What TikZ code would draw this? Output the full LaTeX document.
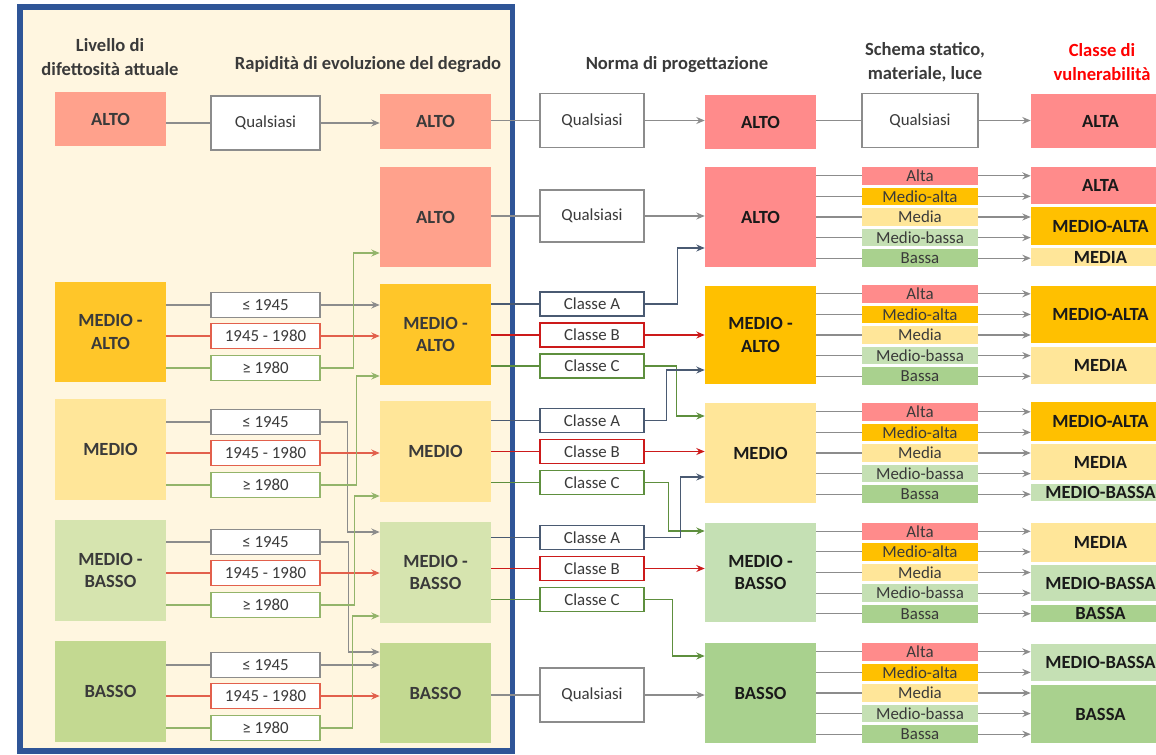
\documentclass[tikz,border=0pt]{standalone}
\usepackage{fontspec}
\setmainfont{Carlito}
\usetikzlibrary{arrows.meta,calc}

\definecolor{bordo}{HTML}{2F5597}
\definecolor{crema}{HTML}{FFF6E0}
\definecolor{testo}{HTML}{3A3A3A}
\definecolor{nero}{HTML}{1A1A1A}
\definecolor{altoL}{HTML}{FFA18C}
\definecolor{maL}{HTML}{FFC629}
\definecolor{medioL}{HTML}{FFE699}
\definecolor{mbL}{HTML}{D6E4AF}
\definecolor{bassoL}{HTML}{C3D991}
\definecolor{altoR}{HTML}{FF8B8B}
\definecolor{maR}{HTML}{FFC000}
\definecolor{medioR}{HTML}{FFE699}
\definecolor{mbR}{HTML}{C5E0B4}
\definecolor{bassoR}{HTML}{A9D18E}
\definecolor{grigio}{HTML}{8C8C8C}
\definecolor{rosso}{HTML}{E2604C}
\definecolor{verde}{HTML}{93B46A}
\definecolor{blu}{HTML}{4A5A72}
\definecolor{rossoR}{HTML}{CC1A1A}
\definecolor{verdeR}{HTML}{5E8F3E}

\tikzset{
  grassetto/.style={font=\fontsize{13.2}{15.8}\selectfont\bfseries},
  lv/.style={rectangle, inner sep=0pt, align=center, grassetto, text=testo, minimum width=2.775cm},
  sel/.style={draw, fill=white, inner sep=0pt, line width=0.8pt, text=testo, minimum width=2.725cm, minimum height=0.625cm},
  norma/.style={sel, minimum width=2.6cm, minimum height=0.6cm},
  riga/.style={rectangle, inner sep=0pt, text=testo, minimum width=2.9cm, minimum height=0.44cm},
  classe/.style={rectangle, inner sep=0pt, grassetto, text=nero, minimum width=3.475cm},
  titolo/.style={font=\fontsize{13.2}{17}\selectfont\bfseries, align=center, text=testo},
  filo/.style={line width=0.8pt},
  freccia/.style={line width=0.8pt, -{Stealth[length=6pt,width=5pt,inset=2pt]}},
}

\begin{document}
\fontsize{12}{15.5}\selectfont
\begin{tikzpicture}[x=0.025cm, y=-0.025cm]
  \useasboundingbox (0,0) rectangle (1156,755);
  \draw[bordo, line width=4pt, fill=crema] (20,7) rectangle (512.5,751);

  % titoli
  \node[titolo] (t1) at (110,57) {Livello di\\difettosità attuale};
  \node[titolo] (t2) at (368,65) {Rapidità di evoluzione del degrado};
  \node[titolo] (t3) at (677,65) {Norma di progettazione};
  \node[titolo] (t4) at (925,62) {Schema statico,\\materiale, luce};
  \node[titolo, text=red] (t5) at (1102,62) {Classe di\\vulnerabilità};

  % livello di difettosita attuale
  \node[lv, fill=altoL, minimum height=1.35cm] (l1) at (110.5,119) {ALTO};
  \node[lv, fill=maL, minimum height=2.5cm] (l2) at (110.5,332) {MEDIO -\\ALTO};
  \node[lv, fill=medioL, minimum height=2.5cm] (l3) at (110.5,449.5) {MEDIO};
  \node[lv, fill=mbL, minimum height=2.5cm] (l4) at (110.5,570.5) {MEDIO -\\BASSO};
  \node[lv, fill=bassoL, minimum height=2.5cm] (l5) at (110.5,691.5) {BASSO};

  % rapidita di evoluzione
  \node[sel, draw=grigio, minimum height=1.35cm] (q1) at (265.5,123) {Qualsiasi};
  \draw[filo, grigio] (q1.west -| l1.east) -- (q1.west);
  \foreach \g/\y in {2/305,3/422,4/542,5/665} {
    \node[sel, draw=grigio] (r\g1) at (265.5,\y) {≤ 1945};
    \node[sel, draw=rosso] (r\g2) at (265.5,\y+31) {1945 - 1980};
    \node[sel, draw=verde] (r\g3) at (265.5,\y+63) {≥ 1980};
    \draw[filo, grigio] (r\g1.west -| l\g.east) -- (r\g1.west);
    \draw[filo, rosso] (r\g2.west -| l\g.east) -- (r\g2.west);
    \draw[filo, verde] (r\g3.west -| l\g.east) -- (r\g3.west);
  }

  % livello aggiornato
  \node[lv, fill=altoL, minimum height=1.35cm] (e1) at (435.5,121.5) {ALTO};
  \node[lv, fill=altoL, minimum height=2.5cm] (e2) at (435.5,217) {ALTO};
  \node[lv, fill=maL, minimum height=2.5cm] (e3) at (435.5,334.5) {MEDIO -\\ALTO};
  \node[lv, fill=medioL, minimum height=2.5cm] (e4) at (435.5,451.5) {MEDIO};
  \node[lv, fill=mbL, minimum height=2.5cm] (e5) at (435.5,572.5) {MEDIO -\\BASSO};
  \node[lv, fill=bassoL, minimum height=2.5cm] (e6) at (435.5,693) {BASSO};

  \draw[freccia, grigio] (q1.east) -- (q1.east -| e1.west);
  \draw[freccia, grigio] (r21.east) -- (r21.east -| e3.west);
  \draw[freccia, rosso] (r22.east) -- (r22.east -| e3.west);
  \draw[freccia, verde] (r23.east) -| ($(e2.west)+(-26,36)$) -- ($(e2.west)+(0,36)$);
  \draw[freccia, grigio] (r31.east) -| ($(e5.west)+(-32,-40.5)$) -- ($(e5.west)+(0,-40.5)$);
  \draw[freccia, rosso] (r32.east) -- (r32.east -| e4.west);
  \draw[freccia, verde] (r33.east) -| ($(e3.west)+(-23,41.5)$) -- ($(e3.west)+(0,41.5)$);
  \draw[freccia, grigio] (r41.east) -| ($(e6.west)+(-31,-41)$) -- ($(e6.west)+(0,-41)$);
  \draw[freccia, rosso] (r42.east) -- (r42.east -| e5.west);
  \draw[freccia, verde] (r43.east) -| ($(e4.west)+(-25,44.5)$) -- ($(e4.west)+(0,44.5)$);
  \draw[freccia, grigio] (r51.east) -- (r51.east -| e6.west);
  \draw[freccia, rosso] (r52.east) -- (r52.east -| e6.west);
  \draw[freccia, verde] (r53.east) -| ($(e5.west)+(-27,43.5)$) -- ($(e5.west)+(0,43.5)$);

  % norma di progettazione
  \node[norma, draw=grigio, minimum height=1.35cm] (n1) at (592,120.5) {Qualsiasi};
  \node[norma, draw=grigio, minimum height=1.3cm] (n2) at (592,216) {Qualsiasi};
  \node[norma, draw=grigio, minimum height=1.35cm] (n6) at (592,695) {Qualsiasi};
  \draw[filo, grigio] (n1.west -| e1.east) -- (n1.west);
  \draw[filo, grigio] (n2.west -| e2.east) -- (n2.west);
  \draw[filo, grigio] (n6.west -| e6.east) -- (n6.west);
  \foreach \g/\y in {3/304,4/420.5,5/537.5} {
    \node[norma, draw=blu] (n\g1) at (592,\y) {Classe A};
    \node[norma, draw=rossoR] (n\g2) at (592,\y+31) {Classe B};
    \node[norma, draw=verdeR] (n\g3) at (592,\y+62) {Classe C};
    \draw[filo, blu] (n\g1.west -| e\g.east) -- (n\g1.west);
    \draw[filo, rossoR] (n\g2.west -| e\g.east) -- (n\g2.west);
    \draw[filo, verdeR] (n\g3.west -| e\g.east) -- (n\g3.west);
  }

  % livello dopo la norma
  \node[lv, fill=altoR, text=nero, minimum height=1.35cm] (k1) at (760.5,122) {ALTO};
  \node[lv, fill=altoR, text=nero, minimum height=2.5cm] (k2) at (760.5,217) {ALTO};
  \node[lv, fill=maR, text=nero, minimum height=2.45cm] (k3) at (760.5,335) {MEDIO -\\ALTO};
  \node[lv, fill=medioR, text=nero, minimum height=2.5cm] (k4) at (760.5,453) {MEDIO};
  \node[lv, fill=mbR, text=nero, minimum height=2.475cm] (k5) at (760.5,572.5) {MEDIO -\\BASSO};
  \node[lv, fill=bassoR, text=nero, minimum height=2.5cm] (k6) at (760.5,693) {BASSO};

  \draw[freccia, grigio] (n1.east) -- (n1.east -| k1.west);
  \draw[freccia, grigio] (n2.east) -- (n2.east -| k2.west);
  \draw[freccia, blu] (n31.east) -| ($(k2.west)+(-27,31)$) -- ($(k2.west)+(0,31)$);
  \draw[freccia, rossoR] (n32.east) -- (n32.east -| k3.west);
  \draw[freccia, verdeR] (n33.east) -| ($(k4.west)+(-28,-37)$) -- ($(k4.west)+(0,-37)$);
  \draw[freccia, blu] (n41.east) -| ($(k3.west)+(-38,35)$) -- ($(k3.west)+(0,35)$);
  \draw[freccia, rossoR] (n42.east) -- (n42.east -| k4.west);
  \draw[freccia, verdeR] (n43.east) -| ($(k5.west)+(-36,-41.5)$) -- ($(k5.west)+(0,-41.5)$);
  \draw[freccia, blu] (n51.east) -| ($(k4.west)+(-24,24)$) -- ($(k4.west)+(0,24)$);
  \draw[freccia, rossoR] (n52.east) -- (n52.east -| k5.west);
  \draw[freccia, verdeR] (n53.east) -| ($(k6.west)+(-32,-37)$) -- ($(k6.west)+(0,-37)$);
  \draw[freccia, grigio] (n6.east) -- (n6.east -| k6.west);

  % classe di vulnerabilita
  \node[classe, fill=altoR, minimum height=1.35cm] (v1) at (1100.5,121) {ALTA};
  \node[classe, fill=altoR, minimum height=0.925cm] (v21) at (1100.5,185.5) {ALTA};
  \node[classe, fill=maR, minimum height=0.95cm] (v22) at (1100.5,226) {MEDIO-ALTA};
  \node[classe, fill=medioR, minimum height=0.45cm] (v23) at (1100.5,257) {MEDIA};
  \node[classe, fill=maR, minimum height=1.425cm] (v31) at (1100.5,314.5) {MEDIO-ALTA};
  \node[classe, fill=medioR, minimum height=0.925cm] (v32) at (1100.5,365.5) {MEDIA};
  \node[classe, fill=maR, minimum height=0.975cm] (v41) at (1100.5,421.5) {MEDIO-ALTA};
  \node[classe, fill=medioR, minimum height=0.9cm] (v42) at (1100.5,462) {MEDIA};
  \node[classe, fill=mbR, minimum height=0.425cm] (v43) at (1100.5,492.5) {MEDIO-BASSA};
  \node[classe, fill=medioR, minimum height=0.975cm] (v51) at (1100.5,542.5) {MEDIA};
  \node[classe, fill=mbR, minimum height=0.9cm] (v52) at (1100.5,583) {MEDIO-BASSA};
  \node[classe, fill=bassoR, minimum height=0.425cm] (v53) at (1100.5,613.5) {BASSA};
  \node[classe, fill=mbR, minimum height=0.925cm] (v61) at (1100.5,662.5) {MEDIO-BASSA};
  \node[classe, fill=bassoR, minimum height=1.45cm] (v62) at (1100.5,714) {BASSA};

  % schema statico, materiale, luce
  \node[sel, draw=grigio, minimum width=2.9cm, minimum height=1.35cm] (s1) at (920,120.5) {Qualsiasi};
  \draw[filo, grigio] (s1.west -| k1.east) -- (s1.west);
  \draw[freccia, grigio] (s1.east) -- (s1.east -| v1.west);
  \foreach \g/\y in {2/217,3/335,4/453,5/572.5,6/693}
    \foreach \r/\t/\c in {1/Alta/altoR,2/Medio-alta/maR,3/Media/medioR,4/Medio-bassa/mbR,5/Bassa/bassoR} {
      \node[riga, fill=\c] (s\g\r) at (920,{\y+(\r-3)*20.6}) {\t};
      \draw[filo, grigio] (s\g\r.west -| k\g.east) -- (s\g\r.west);
      \draw[freccia, grigio] (s\g\r.east) -- (s\g\r.east -| v1.west);
    }
\end{tikzpicture}
\end{document}
